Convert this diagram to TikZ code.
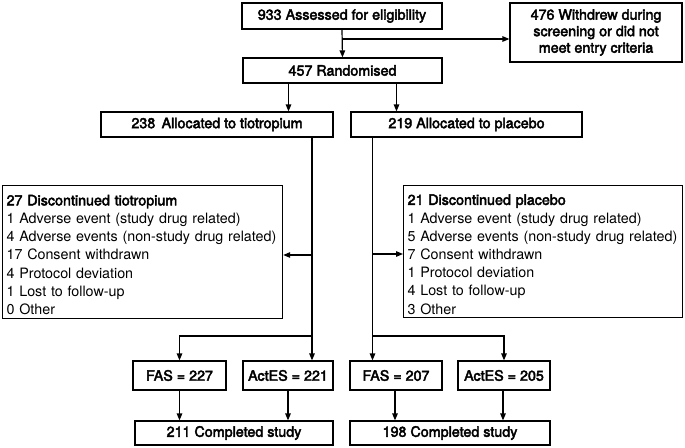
\documentclass[tikz,border=0pt]{standalone}
\usepackage{fontspec}
\setmainfont{TeX Gyre Heros}
\newfontfamily\medfont[FakeBold=3]{TeX Gyre Heros}
\usepackage{tikz}
\usetikzlibrary{
	arrows.meta,
	positioning,
}

\begin{document}
\begin{tikzpicture}[x=1pt, y=-1pt, thick,
		every node/.style={font=\fontsize{14.3}{18.2}\selectfont},
		box/.style={draw, line width=1.2pt, inner sep=0pt, align=center, font=\fontsize{14.3}{16.5}\selectfont\medfont},
		listbox/.style={draw, line width=1.2pt, inner xsep=4pt, inner ysep=2pt, align=left, anchor=north west},
		arr/.style={line width=1.2pt, -{Triangle[length=7pt,width=5.5pt]}},
		line/.style={line width=1.2pt},
	]
\useasboundingbox (0,0) rectangle (685,447);

% screening
\node[box, minimum width=200pt, minimum height=26pt] (assess) at (342,16) {933 Assessed for eligibility};
\node[box, minimum width=172pt, minimum height=59pt] (withdrew) at (596,32.5) {476 Withdrew during\\screening or did not\\meet entry criteria};
\node[box, minimum width=199pt, minimum height=25pt] (rand) at (342.5,70.5) {457 Randomised};

% allocation
\node[box, minimum width=232pt, minimum height=25pt] (tio) at (217,124.5) {238\, Allocated to tiotropium};
\node[box, minimum width=231pt, minimum height=25pt] (plac) at (466.5,124.5) {219 Allocated to placebo};

% discontinued
\node[listbox, text width=272pt, minimum height=133pt] (dtio) at (2,185) {\rule{0pt}{16pt}{\medfont 27 Discontinued tiotropium}\\
1 Adverse event (study drug related)\\
4 Adverse events (non-study drug related)\\
17 Consent withdrawn\\
4 Protocol deviation\\
1 Lost to follow-up\\
0 Other};
\node[listbox, text width=271pt, minimum height=132pt] (dplac) at (403,185) {\rule{0pt}{16pt}{\medfont 21 Discontinued placebo}\\
1 Adverse event (study drug related)\\
5 Adverse events (non-study drug related)\\
7 Consent withdrawn\\
1 Protocol deviation\\
4 Lost to follow-up\\
3 Other};

% analysis sets
\node[box, minimum width=93pt, minimum height=29pt] (fas1) at (179.5,375.5) {FAS = 227};
\node[box, minimum width=90pt, minimum height=29pt] (act1) at (288,375.5) {ActES = 221};
\node[box, minimum width=92pt, minimum height=29pt] (fas2) at (396,375.5) {FAS = 207};
\node[box, minimum width=92pt, minimum height=29pt] (act2) at (504,375.5) {ActES = 205};

% completed
\node[box, minimum width=198pt, minimum height=24pt] (comp1) at (234,433) {211 Completed study};
\node[box, minimum width=200pt, minimum height=24pt] (comp2) at (450,433) {198 Completed study};

%% connectors:
\coordinate (split) at (342,39);
\draw[arr] (assess.south) -- (rand.north);
\draw[arr] (split) -- (split -| withdrew.west);

\draw[arr] ([xshift=-54pt]rand.south) -- ([xshift=-54pt]rand.south |- tio.north);
\draw[arr] ([xshift=54pt]rand.south) -- ([xshift=54pt]rand.south |- plac.north);

% tiotropium arm
\coordinate (tiodown) at (312,137);
\coordinate (tiojoin) at (312,336);
\draw[line] (tiodown) -- (tiojoin);
\draw[arr] (312,255) -- (312,255 -| dtio.east);
\draw[arr] (tiojoin) -| (fas1.north);
\draw[arr] (tiojoin) -- (tiojoin |- act1.north);

% placebo arm
\coordinate (placdown) at (372.5,137);
\coordinate (placjoin) at (372.5,336);
\draw[line] (placdown) -- (placjoin);
\draw[arr] (372.5,254) -- (372.5,254 -| dplac.west);
\draw[arr] (placjoin) -| (act2.north);
\draw[arr] (placjoin) -- (placjoin |- fas2.north);

% completed
\draw[arr] (fas1.south) -- (fas1.south |- comp1.north);
\draw[arr] (act1.south) -- (act1.south |- comp1.north);
\draw[arr] ([xshift=-1pt]fas2.south) -- ([xshift=-1pt]fas2.south |- comp2.north);
\draw[arr] ([xshift=-1pt]act2.south) -- ([xshift=-1pt]act2.south |- comp2.north);

\end{tikzpicture}
\end{document}
